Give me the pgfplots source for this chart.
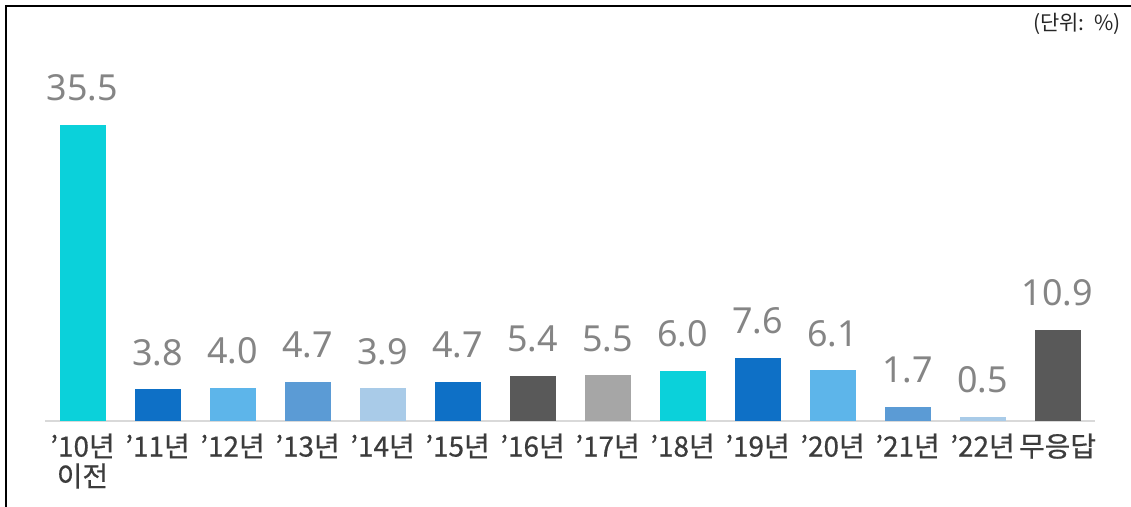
\documentclass[border=0pt]{standalone}
\usepackage{pgfplots}
\pgfplotsset{compat=1.18}
\usepackage{fontspec}
\setmainfont{Noto Sans CJK KR}
\newfontfamily\numfont{Noto Sans}
\newfontfamily\tickfont{Noto Sans CJK KR}[FakeBold=0.6]
\definecolor{cCyan}{HTML}{0BD1DA}
\definecolor{cBlue}{HTML}{0E70C6}
\definecolor{cLight}{HTML}{5DB5EA}
\definecolor{cMid}{HTML}{5B9BD5}
\definecolor{cPale}{HTML}{A9CBE8}
\definecolor{cDark}{HTML}{595959}
\definecolor{cGray}{HTML}{A6A6A6}
\definecolor{valgray}{HTML}{858585}
\definecolor{tickgray}{HTML}{3C3C3C}
\begin{document}
\begin{tikzpicture}[x=1bp,y=1bp]
\useasboundingbox (0,0) rectangle (1131,507);
\draw[black, line width=1.5bp] (6,-10) -- (6,501) -- (1140,501);
\node[anchor=east, font=\fontsize{21}{24}\selectfont, text=black!85] at (1124,483.5) {(단위:\ \ \%)};
\begin{axis}[
  at={(45bp,86bp)}, anchor=south west,
  scale only axis, width=1050bp, height=334bp,
  xmin=-0.5, xmax=13.5, ymin=0, ymax=40,
  axis x line=bottom, axis y line=none,
  x axis line style={draw=black!15, line width=2bp, -},
  ytick=\empty,
  xtick={0,...,13}, major tick length=0pt,
  xticklabels={{’10년\\이전},’11년,’12년,’13년,’14년,’15년,’16년,’17년,’18년,’19년,’20년,’21년,’22년,무응답},
  xticklabel style={font=\tickfont\fontsize{28}{30}\selectfont, text=tickgray, align=center, anchor=north, yshift=-9bp},
  ybar, bar width=46bp, bar shift=0pt,
  nodes near coords={\pgfmathprintnumber[fixed,fixed zerofill,precision=1]{\pgfplotspointmeta}},
  every node near coord/.append style={font=\numfont\fontsize{36}{40}\selectfont, text=valgray, anchor=south, yshift=20bp},
  /pgf/number format/assume math mode=true,
  clip=false,
]
\addplot[fill=cCyan, draw=none] coordinates {(0,35.5)};
\addplot[fill=cBlue, draw=none] coordinates {(1,3.8)};
\addplot[fill=cLight, draw=none] coordinates {(2,4.0)};
\addplot[fill=cMid, draw=none] coordinates {(3,4.7)};
\addplot[fill=cPale, draw=none] coordinates {(4,3.9)};
\addplot[fill=cBlue, draw=none] coordinates {(5,4.7)};
\addplot[fill=cDark, draw=none] coordinates {(6,5.4)};
\addplot[fill=cGray, draw=none] coordinates {(7,5.5)};
\addplot[fill=cCyan, draw=none] coordinates {(8,6.0)};
\addplot[fill=cBlue, draw=none] coordinates {(9,7.6)};
\addplot[fill=cLight, draw=none] coordinates {(10,6.1)};
\addplot[fill=cMid, draw=none] coordinates {(11,1.7)};
\addplot[fill=cPale, draw=none] coordinates {(12,0.5)};
\addplot[fill=cDark, draw=none] coordinates {(13,10.9)};
\end{axis}
\end{tikzpicture}
\end{document}
